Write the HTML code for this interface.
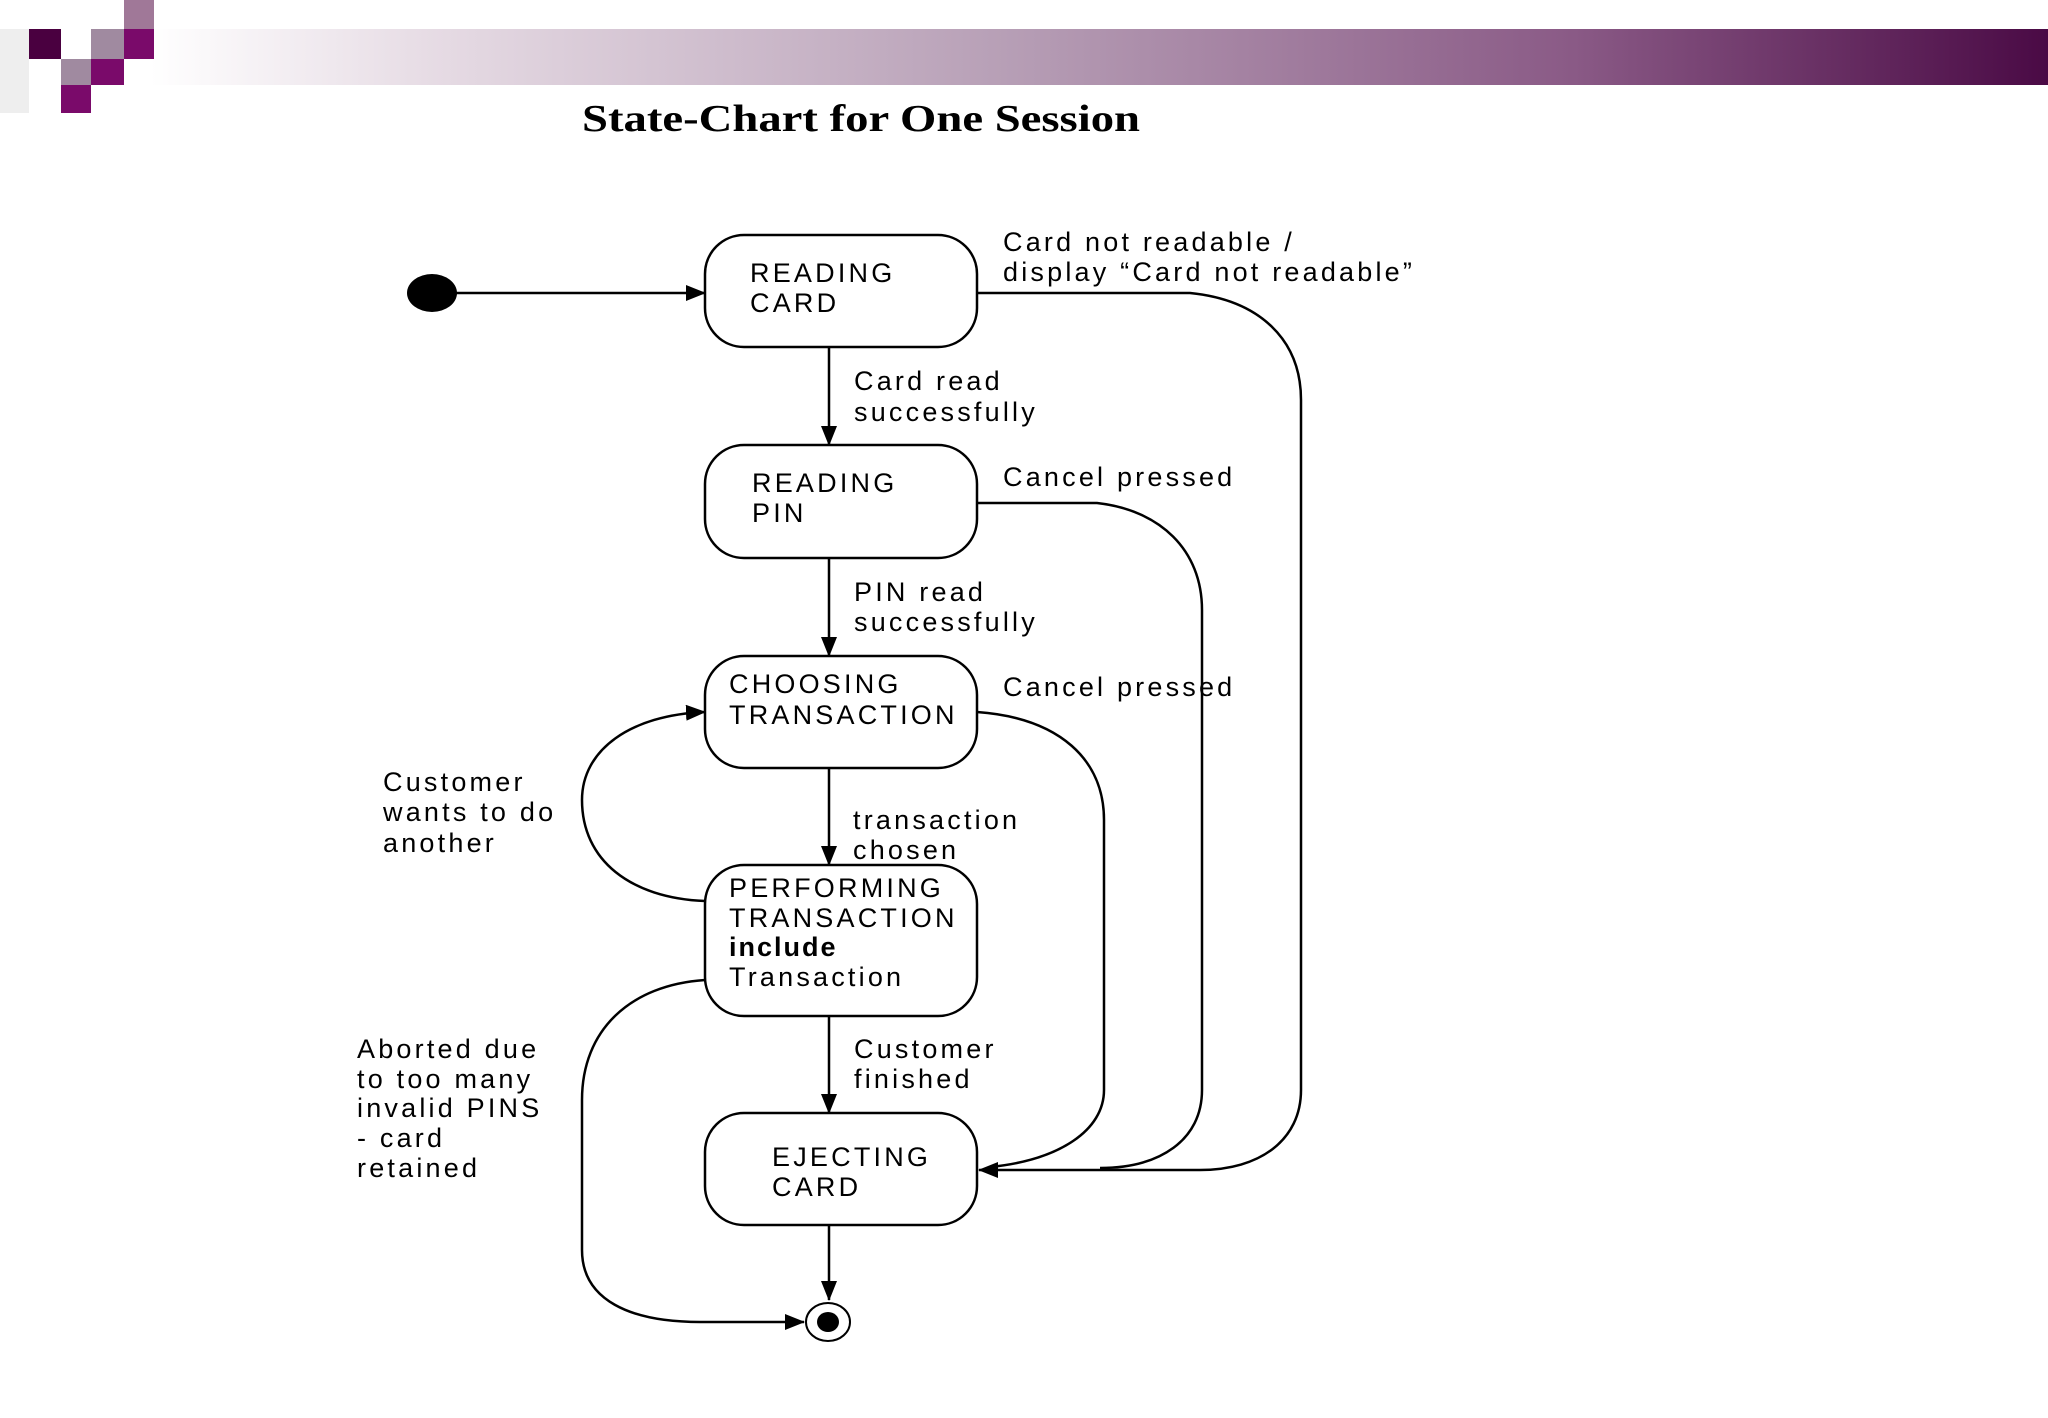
<!DOCTYPE html>
<html><head><meta charset="utf-8"><style>
html,body{margin:0;padding:0;background:#fff;}
svg{display:block;}
text{font-family:"Liberation Sans",sans-serif;font-size:27px;fill:#000;letter-spacing:3.2px;}
</style></head><body>
<svg width="2048" height="1418" viewBox="0 0 2048 1418" xmlns="http://www.w3.org/2000/svg">
<defs>
<linearGradient id="g" x1="0" x2="1" y1="0" y2="0">
<stop offset="0" stop-color="#ffffff"/>
<stop offset="0.15" stop-color="#e6dbe4"/>
<stop offset="0.45" stop-color="#b79fb6"/>
<stop offset="0.75" stop-color="#8a5a86"/>
<stop offset="1" stop-color="#4a0a45"/>
</linearGradient>
<marker id="a" markerWidth="20" markerHeight="16" refX="19" refY="8" orient="auto" markerUnits="userSpaceOnUse">
<path d="M0,0 L20,8 L0,16 Z" fill="#000"/>
</marker>
</defs>
<rect x="150" y="29" width="1898" height="56" fill="url(#g)"/>
<rect x="0" y="29" width="29" height="84" fill="#eeeeee"/>
<rect x="124" y="0" width="30" height="29" fill="#a07898"/>
<rect x="29" y="29" width="32" height="30" fill="#4a0040"/>
<rect x="91" y="29" width="33" height="30" fill="#a08aa0"/>
<rect x="124" y="29" width="30" height="30" fill="#7a0a6a"/>
<rect x="61" y="59" width="30" height="26" fill="#a08aa0"/>
<rect x="91" y="59" width="33" height="26" fill="#7a0a6a"/>
<rect x="61" y="85" width="30" height="28" fill="#7a0a6a"/>
<text x="582" y="131" style="font-family:'Liberation Serif',serif;font-size:38px;font-weight:bold;letter-spacing:0" textLength="558" lengthAdjust="spacingAndGlyphs">State-Chart for One Session</text>

<g fill="none" stroke="#000" stroke-width="2.5">
<rect x="705" y="235" width="272" height="112" rx="39"/>
<rect x="705" y="445" width="272" height="113" rx="39"/>
<rect x="705" y="656" width="272" height="112" rx="39"/>
<rect x="705" y="865" width="272" height="151" rx="39"/>
<rect x="705" y="1113" width="272" height="112" rx="39"/>
<line x1="455" y1="293" x2="705" y2="293" marker-end="url(#a)"/>
<line x1="829" y1="347" x2="829" y2="445" marker-end="url(#a)"/>
<line x1="829" y1="558" x2="829" y2="656" marker-end="url(#a)"/>
<line x1="829" y1="768" x2="829" y2="865" marker-end="url(#a)"/>
<line x1="829" y1="1016" x2="829" y2="1113" marker-end="url(#a)"/>
<line x1="829" y1="1225" x2="829" y2="1300" marker-end="url(#a)"/>
<path d="M977,293 L1190,293 C1260,300 1301,340 1301,400 L1301,1090 C1301,1140 1260,1170 1200,1170 L979,1170" marker-end="url(#a)"/>
<path d="M977,503 L1097,503 C1160,510 1202,550 1202,610 L1202,1090 C1202,1140 1160,1168 1100,1168"/>
<path d="M977,712 C1060,718 1104,760 1104,820 L1104,1090 C1104,1130 1060,1160 990,1167"/>
<path d="M705,901 C630,898 582,860 582,800 C582,750 630,715 705,712" marker-end="url(#a)"/>
<path d="M705,980 C630,985 582,1030 582,1100 L582,1250 C582,1300 630,1322 700,1322 L804,1322" marker-end="url(#a)"/>
</g>
<ellipse cx="432" cy="293" rx="25" ry="19" fill="#000"/>
<ellipse cx="828" cy="1322" rx="22" ry="19" fill="#fff" stroke="#000" stroke-width="2"/>
<ellipse cx="828" cy="1322" rx="11" ry="10" fill="#000"/>

<text x="750" y="282">READING</text><text x="750" y="312">CARD</text>
<text x="752" y="492">READING</text><text x="752" y="522">PIN</text>
<text x="729" y="693">CHOOSING</text><text x="729" y="724">TRANSACTION</text>
<text x="729" y="897">PERFORMING</text><text x="729" y="927">TRANSACTION</text>
<text x="729" y="956" style="font-weight:bold;letter-spacing:2px">include</text><text x="729" y="986">Transaction</text>
<text x="772" y="1166">EJECTING</text><text x="772" y="1196">CARD</text>
<text x="1003" y="251">Card not readable /</text>
<text x="1003" y="281">display “Card not readable”</text>
<text x="854" y="390">Card read</text><text x="854" y="421">successfully</text>
<text x="1003" y="486">Cancel pressed</text>
<text x="854" y="601">PIN read</text><text x="854" y="631">successfully</text>
<text x="1003" y="696">Cancel pressed</text>
<text x="383" y="791">Customer</text><text x="383" y="821">wants to do</text><text x="383" y="852">another</text>
<text x="853" y="829">transaction</text><text x="853" y="859">chosen</text>
<text x="854" y="1058">Customer</text><text x="854" y="1088">finished</text>
<text x="357" y="1058">Aborted due</text><text x="357" y="1088">to too many</text><text x="357" y="1117">invalid PINS</text><text x="357" y="1147">- card</text><text x="357" y="1177">retained</text>
</svg>
</body></html>
